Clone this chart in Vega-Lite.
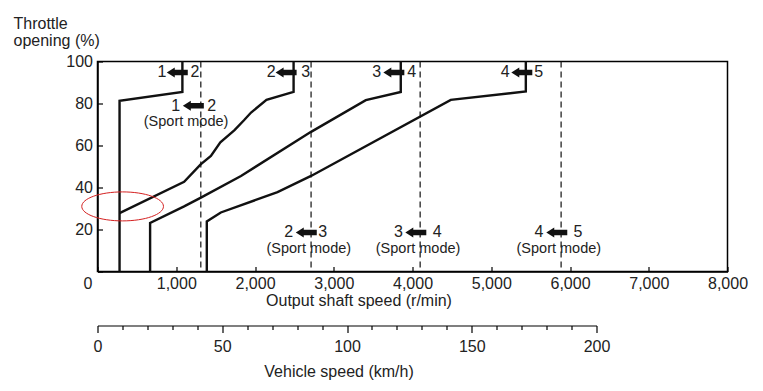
{
  "$schema": "https://vega.github.io/schema/vega-lite/v6.json",
  "background": "white",
  "padding": {"left": 11.5, "top": 13.5, "right": 10, "bottom": 5},
  "bounds": "flush",
  "spacing": 53,
  "config": {
    "font": "Liberation Sans",
    "view": {"stroke": "#000", "strokeWidth": 1.5},
    "axis": {
      "labelFont": "Liberation Sans", "labelFontSize": 16, "labelColor": "#222",
      "titleFont": "Liberation Sans", "titleFontSize": 16, "titleFontWeight": "normal", "titleColor": "#222",
      "domainColor": "#000", "domainWidth": 1.5, "tickColor": "#000", "tickWidth": 1.2, "grid": false
    }
  },
  "datasets": {
    "lines": [
      {"g": "12", "o": 1, "rpm": 280, "pct": 0},
      {"g": "12", "o": 2, "rpm": 280, "pct": 81.3},
      {"g": "12", "o": 3, "rpm": 1078, "pct": 85.5},
      {"g": "12", "o": 4, "rpm": 1078, "pct": 100},
      {"g": "23", "o": 1, "rpm": 280, "pct": 27.8},
      {"g": "23", "o": 2, "rpm": 1100, "pct": 42.7},
      {"g": "23", "o": 3, "rpm": 1310, "pct": 51},
      {"g": "23", "o": 4, "rpm": 1440, "pct": 55},
      {"g": "23", "o": 5, "rpm": 1560, "pct": 61.5},
      {"g": "23", "o": 6, "rpm": 1740, "pct": 67.3},
      {"g": "23", "o": 7, "rpm": 1860, "pct": 72},
      {"g": "23", "o": 8, "rpm": 1950, "pct": 75.7},
      {"g": "23", "o": 9, "rpm": 2146, "pct": 81.7},
      {"g": "23", "o": 10, "rpm": 2490, "pct": 85.5},
      {"g": "23", "o": 11, "rpm": 2490, "pct": 100},
      {"g": "34", "o": 1, "rpm": 668, "pct": 0},
      {"g": "34", "o": 2, "rpm": 668, "pct": 23.1},
      {"g": "34", "o": 3, "rpm": 1100, "pct": 31},
      {"g": "34", "o": 4, "rpm": 1313, "pct": 35.2},
      {"g": "34", "o": 5, "rpm": 1822, "pct": 45.5},
      {"g": "34", "o": 6, "rpm": 2712, "pct": 66.5},
      {"g": "34", "o": 7, "rpm": 3407, "pct": 81.6},
      {"g": "34", "o": 8, "rpm": 3851, "pct": 85.5},
      {"g": "34", "o": 9, "rpm": 3851, "pct": 100},
      {"g": "45", "o": 1, "rpm": 1388, "pct": 0},
      {"g": "45", "o": 2, "rpm": 1388, "pct": 23.8},
      {"g": "45", "o": 3, "rpm": 1566, "pct": 28.1},
      {"g": "45", "o": 4, "rpm": 2286, "pct": 37.8},
      {"g": "45", "o": 5, "rpm": 2712, "pct": 45.5},
      {"g": "45", "o": 6, "rpm": 4486, "pct": 81.7},
      {"g": "45", "o": 7, "rpm": 5439, "pct": 85.7},
      {"g": "45", "o": 8, "rpm": 5439, "pct": 100}
    ],
    "dashes": [{"rpm": 1312}, {"rpm": 2712}, {"rpm": 4097}, {"rpm": 5887}],
    "digits": [
      {"t": "1", "rpm": 817, "pct": 94.8},
      {"t": "2", "rpm": 1236, "pct": 94.8},
      {"t": "2", "rpm": 2206, "pct": 94.8},
      {"t": "3", "rpm": 2645, "pct": 94.8},
      {"t": "3", "rpm": 3547, "pct": 94.8},
      {"t": "4", "rpm": 3991, "pct": 94.8},
      {"t": "4", "rpm": 5178, "pct": 94.8},
      {"t": "5", "rpm": 5601, "pct": 94.8},
      {"t": "1", "rpm": 994, "pct": 78.9},
      {"t": "2", "rpm": 1451, "pct": 78.9},
      {"t": "2", "rpm": 2429, "pct": 18.6},
      {"t": "3", "rpm": 2861, "pct": 18.6},
      {"t": "3", "rpm": 3823, "pct": 18.6},
      {"t": "4", "rpm": 4313, "pct": 18.6},
      {"t": "4", "rpm": 5606, "pct": 18.6},
      {"t": "5", "rpm": 6102, "pct": 18.6}
    ],
    "captions": [
      {"t": "(Sport mode)", "rpm": 1125, "pct": 71},
      {"t": "(Sport mode)", "rpm": 2683, "pct": 10.6},
      {"t": "(Sport mode)", "rpm": 4071, "pct": 10.6},
      {"t": "(Sport mode)", "rpm": 5858, "pct": 10.6}
    ],
    "arrows": [
      {"rpm": 1013, "pct": 94.8},
      {"rpm": 2395, "pct": 94.8},
      {"rpm": 3763, "pct": 94.8},
      {"rpm": 5388, "pct": 94.8},
      {"rpm": 1217, "pct": 78.9},
      {"rpm": 2651, "pct": 18.6},
      {"rpm": 4042, "pct": 18.6},
      {"rpm": 5832, "pct": 18.6}
    ],
    "ring": [{"rpm": 319, "pct": 31}],
    "speed": [{"kmh": 0}, {"kmh": 200}]
  },
  "vconcat": [
    {
      "width": 630,
      "height": 210,
      "layer": [
        {
          "data": {"name": "lines"},
          "mark": {"type": "line", "color": "#111", "strokeWidth": 2.4},
          "encoding": {
            "x": {
              "field": "rpm", "type": "quantitative",
              "scale": {"domain": [0, 8000], "nice": false},
              "axis": {
                "title": "Output shaft speed (r/min)",
                "values": [0, 500, 1000, 1500, 2000, 2500, 3000, 3500, 4000, 4500, 5000, 5500, 6000, 6500, 7000, 7500, 8000],
                "labelExpr": "datum.value % 1000 === 0 ? format(datum.value, ',') : ''",
                "labelOffset": {"condition": {"test": "datum.value === 0", "value": -10}, "value": 0},
                "tickSize": -5,
                "labelPadding": 9,
                "labelFlush": false,
                "labelOverlap": false,
                "titleX": 261,
                "titleY": 33.5,
                "titleAlign": "center",
                "titleBaseline": "alphabetic"
              }
            },
            "y": {
              "field": "pct", "type": "quantitative",
              "scale": {"domain": [0, 100], "nice": false},
              "axis": {
                "title": ["Throttle", "opening (%)"],
                "values": [0, 10, 20, 30, 40, 50, 60, 70, 80, 90, 100],
                "labelExpr": "datum.value % 20 === 0 && datum.value > 0 ? datum.label : ''",
                "tickSize": -5,
                "labelPadding": 10,
                "labelOverlap": false,
                "titleAngle": 0,
                "titleAlign": "left",
                "titleBaseline": "alphabetic",
                "titleX": -84.5,
                "titleY": -33.4,
                "titleLineHeight": 17
              }
            },
            "detail": {"field": "g"},
            "order": {"field": "o", "type": "quantitative"}
          }
        },
        {
          "data": {"name": "dashes"},
          "mark": {"type": "rule", "color": "#111", "strokeWidth": 1.2, "strokeDash": [6, 4]},
          "encoding": {
            "x": {"field": "rpm", "type": "quantitative", "scale": {"domain": [0, 8000], "nice": false}}
          }
        },
        {
          "data": {"name": "digits"},
          "mark": {"type": "text", "fontSize": 16, "color": "#222", "baseline": "middle", "align": "center"},
          "encoding": {
            "x": {"field": "rpm", "type": "quantitative", "scale": {"domain": [0, 8000], "nice": false}},
            "y": {"field": "pct", "type": "quantitative", "scale": {"domain": [0, 100], "nice": false}},
            "text": {"field": "t"}
          }
        },
        {
          "data": {"name": "captions"},
          "mark": {"type": "text", "fontSize": 14.5, "color": "#222", "baseline": "middle", "align": "center"},
          "encoding": {
            "x": {"field": "rpm", "type": "quantitative", "scale": {"domain": [0, 8000], "nice": false}},
            "y": {"field": "pct", "type": "quantitative", "scale": {"domain": [0, 100], "nice": false}},
            "text": {"field": "t"}
          }
        },
        {
          "data": {"name": "arrows"},
          "mark": {
            "type": "point", "filled": true, "opacity": 1, "color": "#111", "size": 441, "strokeWidth": 0,
            "shape": "M-1,0L-0.24,-0.48L-0.24,-0.26L1,-0.26L1,0.26L-0.24,0.26L-0.24,0.48Z"
          },
          "encoding": {
            "x": {"field": "rpm", "type": "quantitative", "scale": {"domain": [0, 8000], "nice": false}},
            "y": {"field": "pct", "type": "quantitative", "scale": {"domain": [0, 100], "nice": false}}
          }
        },
        {
          "data": {"name": "ring"},
          "mark": {
            "type": "point", "filled": false, "opacity": 1, "color": "#d42020", "size": 6675, "strokeWidth": 1,
            "shape": "M-1,0C-1,-0.196,-0.552,-0.355,0,-0.355C0.552,-0.355,1,-0.196,1,0C1,0.196,0.552,0.355,0,0.355C-0.552,0.355,-1,0.196,-1,0Z"
          },
          "encoding": {
            "x": {"field": "rpm", "type": "quantitative", "scale": {"domain": [0, 8000], "nice": false}},
            "y": {"field": "pct", "type": "quantitative", "scale": {"domain": [0, 100], "nice": false}}
          }
        }
      ]
    },
    {
      "width": 499,
      "height": 1,
      "view": {"stroke": null},
      "data": {"name": "speed"},
      "mark": {"type": "point", "opacity": 0},
      "encoding": {
        "x": {
          "field": "kmh", "type": "quantitative",
          "scale": {"domain": [0, 200], "nice": false},
          "axis": {
            "title": "Vehicle speed (km/h)",
            "values": [0, 10, 20, 30, 40, 50, 60, 70, 80, 90, 100, 110, 120, 130, 140, 150, 160, 170, 180, 190, 200],
            "labelExpr": "datum.value % 50 === 0 ? datum.label : ''",
            "tickSize": {"condition": {"test": "datum.value % 50 === 0", "value": 7}, "value": 4},
            "labelPadding": 6,
            "labelFlush": false,
            "labelOverlap": false,
            "domainWidth": 1.2,
            "titleX": 241,
            "titleY": 51,
            "titleAlign": "center",
            "titleBaseline": "alphabetic"
          }
        }
      }
    }
  ]
}
